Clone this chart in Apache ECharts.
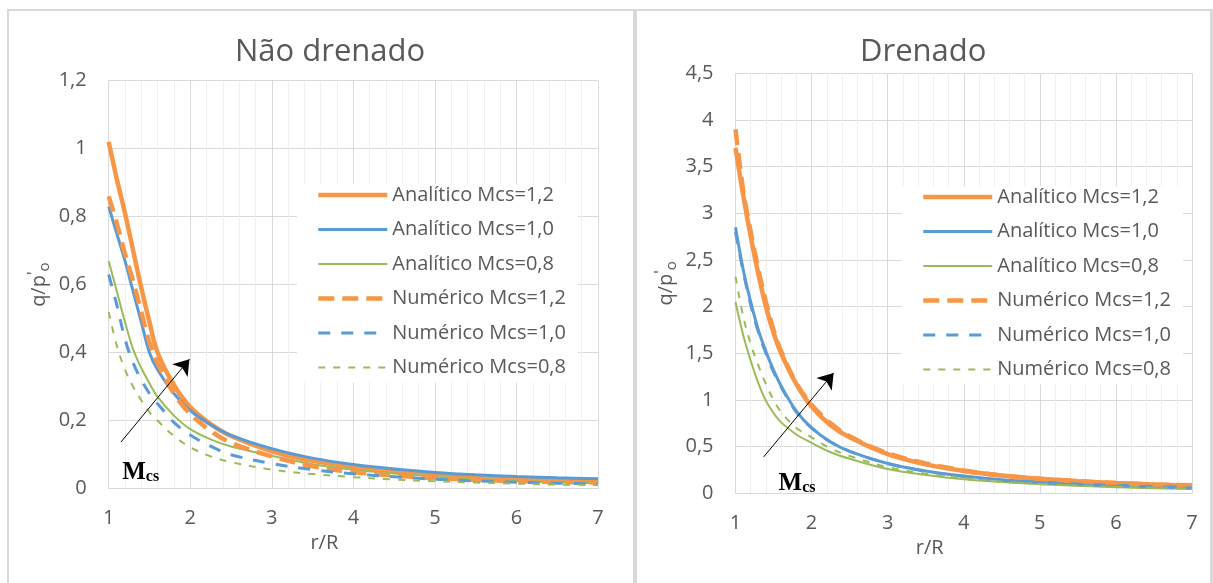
<!DOCTYPE html>
<html>
<head>
    <meta charset="utf-8">
    <title>Expansão de cavidade</title>
    <script src="https://cdn.jsdelivr.net/npm/echarts@6/dist/echarts.min.js"></script>
    <style>
        body { margin: 0; background: #fff; }
    </style>
</head>
<body>
    <div id="main" style="width: 1213px;height:583px;"></div>
    <script type="text/javascript">
        // r/R
        var xs = [1, 1.1, 1.2, 1.3, 1.4, 1.5, 1.6, 1.8, 2, 2.25, 2.5, 3, 3.5, 4, 4.5, 5, 5.5, 6, 6.5, 7];

        var names = ['Analítico Mcs=1,2', 'Analítico Mcs=1,0', 'Analítico Mcs=0,8',
                     'Numérico Mcs=1,2', 'Numérico Mcs=1,0', 'Numérico Mcs=0,8'];

        // Não drenado
        var ndAnal12 = [1.02, 0.91, 0.81, 0.70, 0.59, 0.49, 0.40, 0.305, 0.24, 0.19, 0.155, 0.11, 0.082, 0.064, 0.051, 0.042, 0.035, 0.029, 0.025, 0.022];
        var ndAnal10 = [0.83, 0.75, 0.67, 0.58, 0.49, 0.40, 0.35, 0.28, 0.23, 0.188, 0.157, 0.118, 0.09, 0.071, 0.058, 0.048, 0.041, 0.036, 0.032, 0.029];
        var ndAnal08 = [0.67, 0.58, 0.49, 0.41, 0.355, 0.31, 0.27, 0.215, 0.175, 0.145, 0.124, 0.097, 0.072, 0.056, 0.045, 0.036, 0.029, 0.023, 0.019, 0.016];
        var ndNum12 = [0.86, 0.78, 0.69, 0.61, 0.52, 0.43, 0.37, 0.28, 0.22, 0.17, 0.135, 0.095, 0.066, 0.049, 0.039, 0.031, 0.026, 0.022, 0.02, 0.018];
        var ndNum10 = [0.63, 0.54, 0.44, 0.37, 0.32, 0.28, 0.25, 0.195, 0.158, 0.125, 0.1, 0.074, 0.056, 0.044, 0.035, 0.028, 0.023, 0.019, 0.016, 0.014];
        var ndNum08 = [0.52, 0.42, 0.35, 0.30, 0.26, 0.225, 0.2, 0.155, 0.122, 0.095, 0.078, 0.056, 0.043, 0.034, 0.027, 0.022, 0.018, 0.015, 0.012, 0.011];

        // Drenado
        var dAnal12 = [3.7, 3.2, 2.75, 2.35, 2.0, 1.72, 1.5, 1.17, 0.93, 0.73, 0.6, 0.42, 0.31, 0.24, 0.19, 0.155, 0.13, 0.11, 0.095, 0.083];
        var dAnal10 = [2.85, 2.4, 2.05, 1.75, 1.52, 1.32, 1.15, 0.88, 0.70, 0.55, 0.45, 0.32, 0.24, 0.185, 0.145, 0.12, 0.1, 0.085, 0.073, 0.064];
        var dAnal08 = [2.05, 1.7, 1.42, 1.18, 0.99, 0.86, 0.76, 0.63, 0.54, 0.44, 0.37, 0.26, 0.195, 0.15, 0.12, 0.098, 0.08, 0.066, 0.055, 0.046];
        var dNum12 = [3.9, 3.25, 2.8, 2.4, 2.05, 1.75, 1.52, 1.18, 0.95, 0.75, 0.61, 0.43, 0.32, 0.245, 0.19, 0.155, 0.13, 0.11, 0.095, 0.085];
        var dNum10 = [2.8, 2.38, 2.02, 1.73, 1.5, 1.3, 1.14, 0.87, 0.70, 0.55, 0.45, 0.32, 0.235, 0.18, 0.14, 0.115, 0.095, 0.08, 0.068, 0.058];
        var dNum08 = [2.32, 1.9, 1.6, 1.37, 1.17, 1.0, 0.87, 0.7, 0.6, 0.48, 0.4, 0.28, 0.21, 0.16, 0.125, 0.1, 0.083, 0.07, 0.058, 0.05];

        var ndTicksMax = 1.2, ndTickStep = 0.2;
        var dTicksMax = 4.5, dTickStep = 0.5;

        var orange = '#F79646', blue = '#5B9BD5', green = '#9BBB59';
        var textColor = '#595959';
        var font = 'Open Sans';

        // estilo de cada série, na ordem de names
        var styles = [
            { color: orange, width: 4.5, type: 'solid' },
            { color: blue, width: 3, type: 'solid' },
            { color: green, width: 2, type: 'solid' },
            { color: orange, width: 4.5, type: [16, 8] },
            { color: blue, width: 3, type: [12, 11] },
            { color: green, width: 2, type: [7, 8] }
        ];

        function zip(v) {
            return xs.map(function (x, i) { return [x, v[i]]; });
        }

        function commaFmt(v) {
            return String(Math.round(v * 10) / 10).replace('.', ',');
        }

        function makeSeries(idx, arrays) {
            return arrays.map(function (arr, i) {
                return {
                    name: names[i],
                    type: 'line',
                    xAxisIndex: idx,
                    yAxisIndex: idx,
                    data: zip(arr),
                    smooth: 0.35,
                    symbol: 'none',
                    color: styles[i].color,
                    lineStyle: { width: styles[i].width, type: styles[i].type, color: styles[i].color, cap: 'butt' }
                };
            });
        }

        var myChart = echarts.init(document.getElementById('main'));

        var xAxisBase = {
            type: 'value', min: 1, max: 7, interval: 1,
            axisLine: { show: true, lineStyle: { color: '#d9d9d9' } },
            axisTick: { show: false },
            axisLabel: { color: textColor, fontFamily: font, fontSize: 20, margin: 20 },
            splitLine: { show: true, lineStyle: { color: '#d9d9d9' } },
            minorTick: { show: false, splitNumber: 5 },
            minorSplitLine: { show: true, lineStyle: { color: '#efefef' } },
            name: 'r/R', nameLocation: 'middle',
            nameTextStyle: { color: textColor, fontFamily: font, fontSize: 20 }
        };

        var yName = "{a|q/p}{s|'}{b|o}";
        var yRich = {
            a: { fontFamily: font, fontSize: 20, color: textColor, lineHeight: 26, verticalAlign: 'middle' },
            s: { fontFamily: font, fontSize: 16, color: textColor, lineHeight: 26, verticalAlign: 'top' },
            b: { fontFamily: font, fontSize: 15, color: textColor, lineHeight: 15, verticalAlign: 'bottom' }
        };

        function yAxis(idx, max, step) {
            return {
                type: 'value', gridIndex: idx, min: 0, max: max, interval: step,
                axisLine: { show: false },
                axisTick: { show: false },
                axisLabel: { color: textColor, fontFamily: font, fontSize: 20, margin: 22, formatter: commaFmt },
                splitLine: { show: true, lineStyle: { color: '#d9d9d9' } },
                name: yName, nameLocation: 'middle', nameGap: 56, nameRotate: 90,
                nameTextStyle: { rich: yRich }
            };
        }

        function legend(left, top, pad) {
            return {
                orient: 'vertical', left: left, top: top,
                backgroundColor: '#fff', padding: pad,
                itemWidth: 69, itemHeight: 20, itemGap: 14.5,
                itemStyle: { color: 'rgba(0,0,0,0)', borderWidth: 0, opacity: 0 },
                lineStyle: { width: 'inherit' },
                textStyle: { color: textColor, fontFamily: font, fontSize: 20, lineHeight: 20 },
                data: names
            };
        }

        var seriesNd = makeSeries(0, [ndAnal12, ndAnal10, ndAnal08, ndNum12, ndNum10, ndNum08]);
        var seriesD = makeSeries(1, [dAnal12, dAnal10, dAnal08, dNum12, dNum10, dNum08]);

        // setas "Mcs" (em coordenadas dos eixos)
        function arrowAndLabel(s, from, to, lbl) {
            s.markLine = {
                silent: true, symbol: ['none', 'arrow'], symbolSize: 15,
                lineStyle: { color: '#000', width: 1, type: 'solid' },
                label: { show: false },
                data: [[{ coord: from }, { coord: to }]]
            };
            s.markPoint = {
                silent: true, symbol: 'rect', symbolSize: 1,
                itemStyle: { color: 'rgba(0,0,0,0)' },
                label: {
                    show: true, position: 'right', distance: 0,
                    formatter: '{m|M}{c|cs}',
                    rich: {
                        m: { fontFamily: 'Liberation Serif', fontWeight: 'bold', fontSize: 25, color: '#000', verticalAlign: 'bottom', lineHeight: 26 },
                        c: { fontFamily: 'Liberation Serif', fontWeight: 'bold', fontSize: 16, color: '#000', verticalAlign: 'bottom', lineHeight: 18 }
                    }
                },
                data: [{ coord: lbl }]
            };
        }
        arrowAndLabel(seriesNd[0], [1.15, 0.137], [1.99, 0.381], [1.16, 0.05]);
        arrowAndLabel(seriesD[0], [1.37, 0.39], [2.29, 1.29], [1.56, 0.115]);

        var xNd = Object.assign({}, xAxisBase, { gridIndex: 0, nameGap: 39 });
        xNd.nameTextStyle = Object.assign({}, xAxisBase.nameTextStyle, { padding: [0, 58, 0, 0] });
        var xD = Object.assign({}, xAxisBase, { gridIndex: 1, nameGap: 31 });
        xD.nameTextStyle = Object.assign({}, xAxisBase.nameTextStyle, { padding: [0, 68, 0, 0] });

        myChart.setOption({
            backgroundColor: '#fff',
            animation: false,
            title: [
                { text: 'Não drenado', left: 235, top: 37, padding: 0, textStyle: { color: textColor, fontFamily: font, fontSize: 31, fontWeight: 'normal' } },
                { text: 'Drenado', left: 860, top: 37, padding: 0, textStyle: { color: textColor, fontFamily: font, fontSize: 31, fontWeight: 'normal' } }
            ],
            legend: [legend(297, 184, [1, 12, 5, 19]), legend(902, 186, [1, 12, 5, 19])],
            grid: [
                { left: 108.7, top: 80.7, width: 489.3, height: 408 },
                { left: 735.5, top: 73.3, width: 456.5, height: 420 }
            ],
            xAxis: [xNd, xD],
            yAxis: [yAxis(0, ndTicksMax, ndTickStep), yAxis(1, dTicksMax, dTickStep)],
            graphic: [
                { type: 'rect', shape: { x: 8, y: 9, width: 1205, height: 2 }, style: { fill: '#d9d9d9' }, silent: true },
                { type: 'rect', shape: { x: 7, y: 9, width: 2, height: 574 }, style: { fill: '#d9d9d9' }, silent: true },
                { type: 'rect', shape: { x: 633, y: 9, width: 4, height: 574 }, style: { fill: '#d9d9d9' }, silent: true },
                { type: 'rect', shape: { x: 1210, y: 9, width: 3, height: 574 }, style: { fill: '#d9d9d9' }, silent: true }
            ],
            series: seriesNd.concat(seriesD)
        });
    </script>
</body>
</html>
